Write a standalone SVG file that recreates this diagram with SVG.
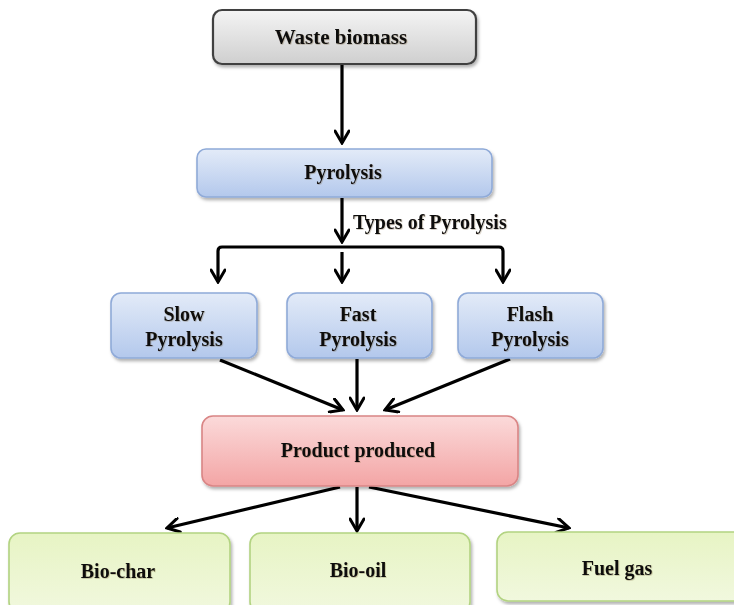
<svg xmlns="http://www.w3.org/2000/svg" width="734" height="605" viewBox="0 0 734 605">
  <defs>
    <linearGradient id="gGray" x1="0" y1="0" x2="0" y2="1">
      <stop offset="0" stop-color="#f4f4f4"/>
      <stop offset="1" stop-color="#cfcfcf"/>
    </linearGradient>
    <linearGradient id="gBlue" x1="0" y1="0" x2="0" y2="1">
      <stop offset="0" stop-color="#e3ebf8"/>
      <stop offset="1" stop-color="#b3c8ec"/>
    </linearGradient>
    <linearGradient id="gRed" x1="0" y1="0" x2="0" y2="1">
      <stop offset="0" stop-color="#fbdada"/>
      <stop offset="1" stop-color="#f3a5a5"/>
    </linearGradient>
    <linearGradient id="gGreen" x1="0" y1="0" x2="0" y2="1">
      <stop offset="0" stop-color="#e7f4c4"/>
      <stop offset="1" stop-color="#f1f8de"/>
    </linearGradient>
    <filter id="boxShadow" x="-10%" y="-20%" width="125%" height="150%">
      <feDropShadow dx="1.5" dy="2.5" stdDeviation="1.8" flood-color="#000" flood-opacity="0.3"/>
    </filter>
    <filter id="textShadow" x="-5%" y="-20%" width="110%" height="150%">
      <feDropShadow dx="0.7" dy="0.7" stdDeviation="0.5" flood-color="#5a4020" flood-opacity="0.35"/>
    </filter>
    <marker id="arrow" viewBox="0 0 16 16" refX="14" refY="8" markerWidth="16" markerHeight="16" markerUnits="userSpaceOnUse" orient="auto">
      <path d="M2,1 L14,8 L2,15" fill="none" stroke="#000" stroke-width="3" stroke-linecap="round" stroke-linejoin="miter"/>
    </marker>
    <style>
      .lbl { font-family: "Liberation Serif", "Times New Roman", serif; font-weight: bold; font-size: 20px; fill: #111; text-anchor: middle; filter: url(#textShadow); }
      .box { stroke-width: 1.6; filter: url(#boxShadow); }
      .gray { fill: url(#gGray); stroke: #404040; stroke-width: 2.2; }
      .blue { fill: url(#gBlue); stroke: #8faad8; }
      .red { fill: url(#gRed); stroke: #d98585; }
      .green { fill: url(#gGreen); stroke: #b2d381; }
      .wire { fill: none; stroke: #000; stroke-width: 3.2; }
      .arw { marker-end: url(#arrow); }
    </style>
  </defs>

  <rect width="734" height="605" fill="#fff"/>

  <!-- connectors -->
  <g id="connectors">
    <line class="wire arw" x1="342" y1="65" x2="342" y2="143"/>
    <line class="wire arw" x1="342" y1="198" x2="342" y2="242"/>
    <path class="wire arw" d="M342,247 H222 Q218,247 218,251 V282"/>
    <path class="wire arw" d="M342,247 H499 Q503,247 503,251 V282"/>
    <line class="wire arw" x1="342" y1="252" x2="342" y2="282"/>
    <line class="wire arw" x1="220" y1="360" x2="343" y2="410"/>
    <line class="wire arw" x1="357" y1="359" x2="357" y2="410"/>
    <line class="wire arw" x1="510" y1="359" x2="385" y2="410"/>
    <line class="wire arw" x1="340" y1="487" x2="167" y2="528"/>
    <line class="wire arw" x1="357" y1="487" x2="357" y2="531"/>
    <line class="wire arw" x1="369" y1="487" x2="569" y2="528"/>
    <text class="lbl" x="353" y="229" style="text-anchor:start">Types of Pyrolysis</text>
  </g>

  <g id="waste-biomass">
    <rect class="box gray" x="213" y="10" width="263" height="54" rx="9"/>
    <text class="lbl" x="341" y="44" style="font-size:21px">Waste biomass</text>
  </g>

  <g id="pyrolysis">
    <rect class="box blue" x="197" y="149" width="295" height="48" rx="9"/>
    <text class="lbl" x="343" y="179">Pyrolysis</text>
  </g>

  <g id="slow-pyrolysis">
    <rect class="box blue" x="111" y="293" width="146" height="65" rx="10"/>
    <text class="lbl" x="184" y="321">Slow</text>
    <text class="lbl" x="184" y="346">Pyrolysis</text>
  </g>

  <g id="fast-pyrolysis">
    <rect class="box blue" x="287" y="293" width="145" height="65" rx="10"/>
    <text class="lbl" x="358" y="321">Fast</text>
    <text class="lbl" x="358" y="346">Pyrolysis</text>
  </g>

  <g id="flash-pyrolysis">
    <rect class="box blue" x="458" y="293" width="145" height="65" rx="10"/>
    <text class="lbl" x="530" y="321">Flash</text>
    <text class="lbl" x="530" y="346">Pyrolysis</text>
  </g>

  <g id="product-produced">
    <rect class="box red" x="202" y="416" width="316" height="70" rx="11"/>
    <text class="lbl" x="358" y="457">Product produced</text>
  </g>

  <g id="bio-char">
    <rect class="box green" x="9" y="533" width="221" height="80" rx="11"/>
    <text class="lbl" x="118" y="578">Bio-char</text>
  </g>

  <g id="bio-oil">
    <rect class="box green" x="250" y="533" width="220" height="80" rx="11"/>
    <text class="lbl" x="358" y="577">Bio-oil</text>
  </g>

  <g id="fuel-gas">
    <rect class="box green" x="497" y="532" width="252" height="69" rx="11"/>
    <text class="lbl" x="617" y="575">Fuel gas</text>
  </g>
</svg>
